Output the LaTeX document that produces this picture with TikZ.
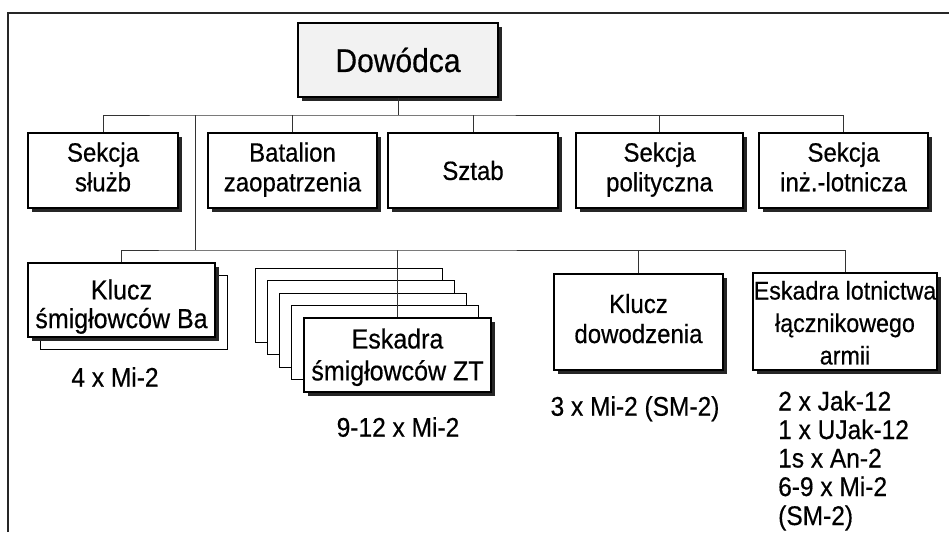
\documentclass[tikz,border=0pt]{standalone}
\usepackage{graphicx}
\usepackage{fontspec}
\setmainfont{Liberation Sans}[FakeBold=0.5]
\usetikzlibrary{shadows}
\newcommand\vt[1]{\scalebox{1}[1.1]{\begin{tabular}{@{}c@{}}#1\end{tabular}}}
\newcommand\vs[1]{\scalebox{1}[1.1]{#1}}
\begin{document}
\begin{tikzpicture}[x=1pt,y=-1pt,
  bx/.style={draw=black, line width=1.2pt, fill=white, inner sep=0pt, text=black},
  shd/.style={general shadow={fill=black!85, shadow xshift=4pt, shadow yshift=-4pt}},
  bk/.style={draw=black, line width=0.9pt, fill=white, inner sep=0pt},
  ln/.style={draw=black!80, line width=0.75pt},
  tx/.style={inner sep=0pt, text=black},
  lbl/.style={font=\fontsize{24.5}{29}\selectfont, inner sep=0pt, anchor=base},
  lst/.style={font=\fontsize{24.5}{29}\selectfont, inner sep=0pt, anchor=base west}
]
\useasboundingbox (0,0) rectangle (949,532);
\fill[white] (0,0) rectangle (949,532);
% frame
\draw[line width=1.7pt, black!85] (8,532) -- (8,13) -- (949,13);

% top
\node[bx, shd, fill=black!5, minimum width=200pt, minimum height=74pt,
      font=\fontsize{30}{34}\selectfont] (dow) at (398,60) {\vs{Dowódca}};

% row 2
\node[bx, shd, font=\fontsize{24}{27}\selectfont, minimum width=150pt, minimum height=75pt] (ss)  at (103,170.5)   {\vt{Sekcja\\służb}};
\node[bx, shd, font=\fontsize{24}{27}\selectfont, minimum width=169pt, minimum height=75pt] (bat) at (292.5,170.5) {\vt{Batalion\\zaopatrzenia}};
\node[bx, shd, font=\fontsize{24}{27}\selectfont, minimum width=170pt, minimum height=75pt] (sz)  at (473,170.5)   {\vs{Sztab}};
\node[bx, shd, font=\fontsize{24}{27}\selectfont, minimum width=167pt, minimum height=75pt] (pol) at (659.5,170.5) {\vt{Sekcja\\polityczna}};
\node[bx, shd, font=\fontsize{24}{27}\selectfont, minimum width=169pt, minimum height=75pt] (inz) at (843.5,170.5) {\vt{Sekcja\\inż.-lotnicza}};

% row 3
\node[bk, minimum width=187pt, minimum height=74pt] (kbaback) at (133.5,312) {};
\node[bx, shd, minimum width=187pt, minimum height=74pt] (kba) at (121.5,300) {};
\node[tx, font=\fontsize{25}{25.5}\selectfont] (kbat) at ([yshift=-8pt]kba.center) {\vt{Klucz\\śmigłowców Ba}};

\node[bk, minimum width=187pt, minimum height=74pt] (zt1) at (348.5,305)   {};
\node[bk, minimum width=187pt, minimum height=74pt] (zt2) at (360.75,317.5) {};
\node[bk, minimum width=187pt, minimum height=74pt] (zt3) at (373,330)     {};
\node[bk, minimum width=187pt, minimum height=74pt] (zt4) at (385.25,342.5) {};
\node[bx, shd, minimum width=187pt, minimum height=74pt] (zt) at (397.5,355) {};
\node[tx, font=\fontsize{25}{29}\selectfont] (ztt) at ([yshift=-3pt]zt.center) {\vt{Eskadra\\śmigłowców ZT}};

\node[bx, shd, font=\fontsize{24}{27.3}\selectfont, minimum width=169pt, minimum height=96pt] (kd) at (638.5,322) {\vt{Klucz\\dowodzenia}};
\node[bx, shd, minimum width=184pt, minimum height=97pt] (elt) at (845,321.5) {};
\node[tx, font=\fontsize{23.3}{29.5}\selectfont] (eltt) at ([yshift=-4pt]elt.center) {\vt{Eskadra lotnictwa\\łącznikowego\\armii}};

% connectors
\coordinate (b1) at (195,115);
\coordinate (b2) at (195,250);
\draw[ln] (dow.south) -- (dow.south |- b1);
\draw[ln] (ss.north) |- (b1) -| (inz.north);
\draw[ln] (bat.north) -- (bat.north |- b1);
\draw[ln] (sz.north) -- (sz.north |- b1);
\draw[ln] (pol.north) -- (pol.north |- b1);
\draw[ln] (b1) -- (b2);
\draw[ln] (kba.north) |- (b2) -| (elt.north);
\draw[ln] (zt.north) -- (zt.north |- b2);
\draw[ln] (kd.north) -- (kd.north |- b2);

% labels
\node[lbl] (l1) at (115,386.7) {\vs{4 x Mi-2}};
\node[lbl] (l2) at (398,436.7) {\vs{9-12 x Mi-2}};
\node[lbl] (l3) at (635,415.7) {\vs{3 x Mi-2 (SM-2)}};
\node[lst] (m1) at (778,410.5) {\vs{2 x Jak-12}};
\node[lst] (m2) at (778,439)   {\vs{1 x UJak-12}};
\node[lst] (m3) at (778,467.5) {\vs{1s x An-2}};
\node[lst] (m4) at (778,496)   {\vs{6-9 x Mi-2}};
\node[lst] (m5) at (778,525)   {\vs{(SM-2)}};
\end{tikzpicture}
\end{document}
